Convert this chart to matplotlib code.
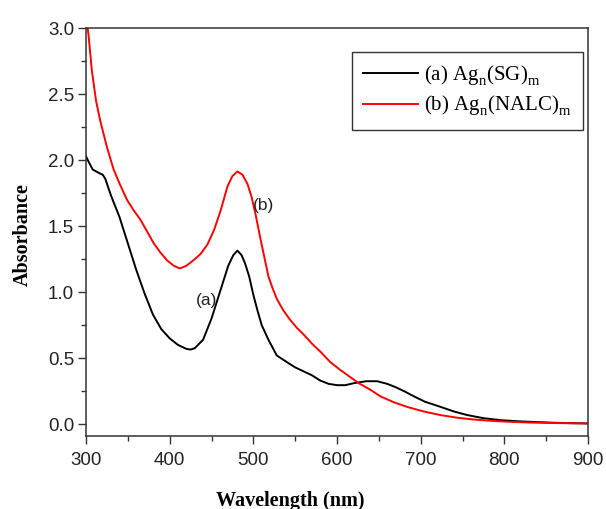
import matplotlib
matplotlib.use("Agg")
import matplotlib.pyplot as plt
from matplotlib.ticker import MultipleLocator

plt.rcParams["mathtext.fontset"] = "stix"

# ---- data ----
wl_a = [300, 303, 308, 315, 320, 323, 330, 340, 350, 360, 370, 380, 390, 400,
        410, 420, 425, 430, 440, 450, 460, 470, 476, 481, 486, 490, 495, 500,
        505, 510, 518, 528, 540, 550, 560, 570, 580, 590, 600, 610, 620, 635,
        648, 660, 670, 680, 692, 705, 724, 740, 756, 775, 795, 815, 835, 860,
        880, 900]
abs_a = [2.03, 1.99, 1.93, 1.905, 1.89, 1.86, 1.73, 1.57, 1.37, 1.17, 0.99,
         0.83, 0.72, 0.65, 0.60, 0.57, 0.565, 0.575, 0.64, 0.80, 1.00, 1.20,
         1.28, 1.315, 1.28, 1.22, 1.12, 0.98, 0.86, 0.75, 0.64, 0.52, 0.47,
         0.43, 0.40, 0.37, 0.33, 0.305, 0.295, 0.295, 0.31, 0.325, 0.325,
         0.305, 0.28, 0.25, 0.21, 0.17, 0.13, 0.095, 0.068, 0.045, 0.03,
         0.022, 0.016, 0.01, 0.007, 0.005]

wl_b = [301, 303, 307, 312, 317, 325, 333, 341, 349, 357, 365, 373, 381, 389,
        397, 405, 412, 420, 430, 437, 445, 453, 461, 469, 475, 481, 487, 493,
        498, 503, 508, 513, 518, 523, 528, 536, 544, 552, 560, 570, 580, 592,
        604, 615, 626, 640, 652, 668, 684, 704, 724, 744, 763, 784, 804, 830,
        860, 899]
abs_b = [3.05, 2.95, 2.68, 2.45, 2.30, 2.10, 1.93, 1.81, 1.70, 1.62, 1.55,
         1.46, 1.37, 1.30, 1.24, 1.20, 1.18, 1.20, 1.25, 1.29, 1.36, 1.47,
         1.62, 1.80, 1.88, 1.915, 1.89, 1.82, 1.72, 1.58, 1.42, 1.27, 1.12,
         1.03, 0.95, 0.86, 0.79, 0.73, 0.68, 0.61, 0.55, 0.47, 0.41, 0.36,
         0.31, 0.26, 0.21, 0.165, 0.13, 0.095, 0.068, 0.048, 0.035, 0.025,
         0.018, 0.012, 0.008, 0.005]

labels = [r"(a) Ag$_\mathregular{n}^{}$(SG)$_\mathregular{m}^{}$",
          r"(b) Ag$_\mathregular{n}^{}$(NALC)$_\mathregular{m}^{}$"]
colors = ["black", "#ff0000"]
x_ticks = [300, 400, 500, 600, 700, 800, 900]
y_ticks = [0.0, 0.5, 1.0, 1.5, 2.0, 2.5, 3.0]

W, H = 606, 509
fig = plt.figure(figsize=(W / 100, H / 100), dpi=100)
ax = fig.add_axes([86 / W, (H - 435.7) / H, (588 - 86) / W, (435.7 - 28.3) / H])

ax.plot(wl_a, abs_a, color=colors[0], lw=1.4, label=labels[0])
ax.plot(wl_b, abs_b, color=colors[1], lw=1.4, label=labels[1])

ax.set_xlim(300, 900)
ax.set_ylim(-0.088, 3.0)
ax.set_xticks(x_ticks)
ax.set_yticks(y_ticks)
ax.set_yticklabels([f"{v:.1f}" for v in y_ticks])
ax.xaxis.set_minor_locator(MultipleLocator(50))
ax.yaxis.set_minor_locator(MultipleLocator(0.25))

ax.tick_params(which="major", direction="out", length=5.5, width=1.0,
               color="#333333", labelsize=13.5, labelcolor="#222222")
ax.tick_params(which="minor", direction="out", length=3.5, width=1.0,
               color="#333333")
ax.tick_params(axis="x", which="major", pad=6)
ax.tick_params(axis="y", which="major", pad=3)
for lab in ax.get_xticklabels() + ax.get_yticklabels():
    lab.set_fontfamily("Liberation Sans")
for sp in ax.spines.values():
    sp.set_linewidth(1.1)
    sp.set_color("#333333")

ax.text(443.6, 0.935, "(a)", family="Liberation Sans", fontsize=12.5,
        color="#222222", ha="center", va="center")
ax.text(512.7, 1.66, "(b)", family="Liberation Sans", fontsize=12.5,
        color="#222222", ha="center", va="center")

fig.text(290.5 / W, (H - 506) / H, "Wavelength (nm)", family="Liberation Serif",
         fontweight="bold", fontsize=14.5, ha="center", va="baseline")
fig.text(23 / W, (H - 235) / H, "Absorbance", family="Liberation Serif",
         fontweight="bold", fontsize=14.5, ha="center", va="center",
         rotation=90)

leg = ax.legend(loc="upper right", bbox_to_anchor=(0.990, 0.942),
                borderaxespad=0, prop={"family": "Liberation Serif", "size": 15},
                handlelength=2.6, handletextpad=0.3, borderpad=0.55,
                labelspacing=0.3, fancybox=False, framealpha=1)
leg.get_frame().set_edgecolor("#333333")
leg.get_frame().set_linewidth(1.0)

fig.savefig("out.png", dpi=100)
